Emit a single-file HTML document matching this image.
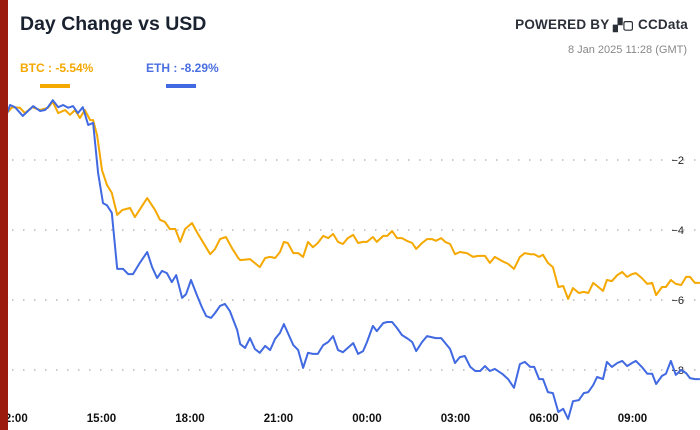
<!DOCTYPE html>
<html><head><meta charset="utf-8">
<style>
html,body{margin:0;padding:0;background:#fff;}
body{width:700px;height:430px;overflow:hidden;position:relative;font-family:"Liberation Sans",sans-serif;}
#redbar{position:absolute;left:0;top:0;width:8px;height:430px;background:#9b1b0f;z-index:5;}
#title{position:absolute;left:20px;top:13px;font-size:19.5px;font-weight:bold;color:#1a2230;}
#powered{position:absolute;right:12px;top:17px;font-size:13.5px;color:#2a2f38;font-weight:bold;letter-spacing:0.2px;}
#date{position:absolute;right:13px;top:44px;font-size:11px;color:#888;}
.leg{position:absolute;top:61px;font-size:12px;font-weight:bold;}
.legline{position:absolute;top:84px;width:30px;height:4px;}
svg{position:absolute;left:0;top:0;}
</style></head>
<body>
<div id="redbar"></div>
<div id="title">Day Change vs USD</div>
<div id="powered">POWERED BY <span style="font-size:12px">▞▢</span> CCData</div>
<div id="date">8 Jan 2025 11:28 (GMT)</div>
<div class="leg" style="left:20px;color:#f5a800">BTC : -5.54%</div>
<div class="legline" style="left:40px;background:#f5a800"></div>
<div class="leg" style="left:146px;color:#4a6fe0">ETH : -8.29%</div>
<div class="legline" style="left:166px;background:#4169e1"></div>
<svg id="chart" width="700" height="430"></svg>
<script>
const btcTime=[-10,-2,14,24,39,55,71,81,92,106,116,126,136,146,157,163,171,181,191,201,212,222,238,248,273,289,299,309,319,330,340,350,364,374,384,401,411,421,433,445,458,462,482,502,513,523,533,543,551,559,570,580,590,600,610,620,631,641,651,661,671,681,692,702,712,720,732,740,753,761,771,781,791,801,812,820,832,842,852,860,871,879,889,899,909,923,936,946,960,970,980,995,1007,1019,1031,1041,1052,1060,1070,1078,1088,1098,1109,1119,1129,1139,1151,1161,1170,1180,1188,1200,1208,1218,1229,1239,1249,1259,1267,1279,1290,1300,1308,1320,1328,1338,1348,1359,1369,1377,1387,1397];
const btcValues=[-0.63,-0.49,-0.51,-0.66,-0.49,-0.57,-0.51,-0.34,-0.66,-0.57,-0.71,-0.57,-0.80,-0.57,-0.86,-0.86,-1.29,-2.29,-2.71,-2.94,-3.57,-3.43,-3.37,-3.63,-3.09,-3.43,-3.71,-3.77,-3.97,-3.97,-4.34,-3.97,-3.80,-4.06,-4.29,-4.69,-4.54,-4.26,-4.20,-4.51,-4.80,-4.86,-4.83,-5.06,-4.80,-4.77,-4.80,-4.63,-4.34,-4.37,-4.66,-4.66,-4.77,-4.34,-4.49,-4.37,-4.17,-4.23,-4.11,-4.34,-4.40,-4.23,-4.14,-4.37,-4.34,-4.34,-4.20,-4.34,-4.17,-4.17,-4.03,-4.23,-4.23,-4.31,-4.37,-4.54,-4.37,-4.26,-4.26,-4.31,-4.23,-4.34,-4.40,-4.69,-4.63,-4.66,-4.77,-4.74,-4.74,-4.94,-4.77,-4.89,-4.97,-5.11,-4.77,-4.66,-4.69,-4.69,-4.77,-4.71,-4.94,-5.06,-5.63,-5.60,-5.97,-5.66,-5.80,-5.77,-5.80,-5.51,-5.60,-5.74,-5.43,-5.46,-5.29,-5.20,-5.34,-5.26,-5.23,-5.37,-5.54,-5.51,-5.86,-5.63,-5.63,-5.43,-5.54,-5.57,-5.34,-5.34,-5.51,-5.51];
const ethTime=[-12,-6,4,20,41,55,65,71,81,92,102,112,122,132,142,153,163,173,183,191,201,212,224,234,244,258,273,283,293,303,313,323,332,344,352,362,374,384,393,403,411,421,431,441,456,462,472,482,492,502,513,523,533,543,551,570,580,590,600,610,620,631,641,651,661,671,681,692,702,712,720,732,740,753,761,771,781,791,801,812,820,832,842,860,871,889,899,909,919,930,940,950,960,970,980,995,1007,1019,1031,1041,1052,1060,1070,1078,1088,1098,1109,1119,1129,1139,1151,1161,1170,1180,1188,1200,1208,1218,1229,1239,1249,1259,1267,1279,1290,1300,1308,1320,1328,1338,1348,1359,1369,1377,1387,1397];
const ethValues=[-0.66,-0.43,-0.49,-0.74,-0.46,-0.60,-0.57,-0.49,-0.29,-0.49,-0.43,-0.51,-0.46,-0.66,-0.49,-1.00,-0.94,-2.37,-3.23,-3.29,-3.51,-5.11,-5.11,-5.26,-5.26,-4.94,-4.63,-5.06,-5.37,-5.17,-5.23,-5.49,-5.29,-5.94,-5.83,-5.43,-5.86,-6.20,-6.46,-6.51,-6.37,-6.17,-6.11,-6.31,-6.86,-7.26,-7.37,-7.09,-7.40,-7.51,-7.31,-7.43,-7.11,-6.94,-6.69,-7.29,-7.43,-7.94,-7.51,-7.54,-7.54,-7.29,-7.20,-7.03,-7.43,-7.49,-7.37,-7.23,-7.54,-7.46,-7.20,-6.74,-6.89,-6.66,-6.63,-6.63,-6.80,-7.00,-7.09,-7.20,-7.46,-7.20,-7.03,-7.09,-7.09,-7.40,-7.80,-7.63,-7.60,-7.91,-8.03,-8.03,-7.89,-8.03,-7.97,-8.11,-8.26,-8.51,-7.83,-7.77,-7.91,-7.91,-8.26,-8.26,-8.63,-8.66,-9.20,-9.11,-9.40,-8.89,-8.86,-8.66,-8.63,-8.43,-8.20,-8.26,-7.77,-7.91,-7.80,-7.74,-7.89,-7.80,-7.74,-7.91,-8.11,-8.11,-8.40,-8.17,-8.11,-7.74,-8.14,-8.00,-8.09,-8.23,-8.26,-8.26];
const yTicks=[-2,-4,-6,-8];
const xTickMinutes=[0,180,360,540,720,900,1080,1260];
const xTickLabels=["12:00","15:00","18:00","21:00","00:00","03:00","06:00","09:00"];

const NS="http://www.w3.org/2000/svg";
const svg=document.getElementById('chart');
function xScale(m){return 13+m/60*29.5;}
function yScale(v){return 90-v*35;}
function mk(tag,attrs){const e=document.createElementNS(NS,tag);for(const k in attrs)e.setAttribute(k,attrs[k]);svg.appendChild(e);return e;}

yTicks.forEach(t=>{
  const y=yScale(t);
  const g=mk('line',{x1:12,x2:700,y1:y,y2:y,stroke:'#aaa','stroke-width':1.2,'stroke-dasharray':'1.5 9.5'});
  
  
  const tx=mk('text',{x:684,y:y+4,'text-anchor':'end','font-size':11,'font-family':'Liberation Sans, sans-serif',fill:'#222'});
  tx.textContent='\u2212'+Math.abs(t);
  
  
});
xTickMinutes.forEach((m,i)=>{
  const tx=mk('text',{x:xScale(m),y:422,'text-anchor':'middle','font-size':11.5,'font-weight':'bold','font-family':'Liberation Sans, sans-serif',fill:'#111'});
  tx.textContent=xTickLabels[i];
  
  
});
function series(times,vals,color,name){
  const d=times.map((t,i)=>(i?'L':'M')+xScale(t).toFixed(1)+' '+yScale(vals[i]).toFixed(1)).join(' ');
  const p=mk('path',{d:d,fill:'none',stroke:color,'stroke-width':2,'stroke-linejoin':'round'});
  
  
}
series(btcTime,btcValues,'#f5a800','btc-line');
series(ethTime,ethValues,'#4169e1','eth-line');
</script>
</body></html>
